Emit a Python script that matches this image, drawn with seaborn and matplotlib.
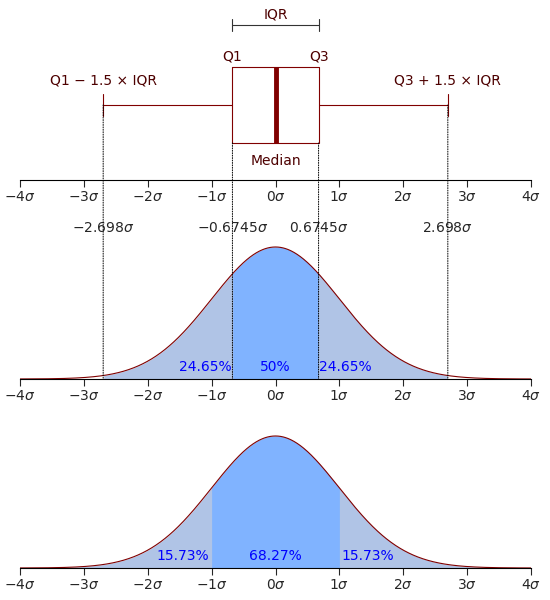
import numpy as np
import seaborn as sns
import matplotlib.pyplot as plt
from matplotlib.patches import ConnectionPatch

sns.set_style('white')
plt.rcParams['font.family'] = ['DejaVu Sans']

q1, q3 = -0.6745, 0.6745
wlo, whi = -2.698, 2.698
median = 0.0
ticks = [-4, -3, -2, -1, 0, 1, 2, 3, 4]
tick_labels = [r'$-4\sigma$', r'$-3\sigma$', r'$-2\sigma$', r'$-1\sigma$', r'$0\sigma$',
               r'$1\sigma$', r'$2\sigma$', r'$3\sigma$', r'$4\sigma$']
mid_pct = ['24.65%', '50%', '24.65%']
bot_pct = ['15.73%', '68.27%', '15.73%']

# standard normal density (the subject of the chart)
xs = np.linspace(-4, 4, 801)
pdf = np.exp(-xs**2 / 2) / np.sqrt(2 * np.pi)

RED = '#800000'
TXT = '#4d0000'
LIGHT = '#b0c4e6'
DARK = '#80b3ff'

fig = plt.figure(figsize=(5.5, 6), dpi=100)
L, W = 20/550, 511/550
ax_top = fig.add_axes([L, 1 - 180/600, W, 180/600])
ax_mid = fig.add_axes([L, 1 - 379/600, W, 139/600])
ax_bot = fig.add_axes([L, 1 - 568/600, W, 138/600])

def style(ax):
    ax.set_xlim(-4, 4)
    for s in ['top', 'left', 'right']:
        ax.spines[s].set_visible(False)
    ax.spines['bottom'].set_color('black')
    ax.set_xticks(ticks)
    ax.set_xticklabels(tick_labels, fontsize=10)
    ax.tick_params(axis='x', direction='out', length=5, width=0.8, bottom=True, pad=2)
    ax.set_yticks([])
    ax.set_facecolor('none')

# top: box plot
style(ax_top)
ax_top.set_ylim(180, 0)
stats = [dict(med=median, q1=q1, q3=q3, whislo=wlo, whishi=whi, fliers=[])]
ax_top.bxp(stats, positions=[105], widths=76, vert=False, capwidths=22,
           boxprops=dict(color=RED, lw=0.8), whiskerprops=dict(color=RED, lw=0.8),
           capprops=dict(color=RED, lw=0.8), medianprops=dict(color=RED, lw=3.5),
           manage_ticks=False)
ax_top.set_yticks([])
ax_top.plot([q1, q3], [25, 25], color='#333333', lw=0.8)
ax_top.plot([q1, q1], [19, 31], color='#333333', lw=0.8)
ax_top.plot([q3, q3], [19, 31], color='#333333', lw=0.8)
ax_top.text(0, 15, 'IQR', ha='center', va='center', fontsize=10, color=TXT)
ax_top.text(q1, 57, 'Q1', ha='center', va='center', fontsize=10, color=TXT)
ax_top.text(q3, 57, 'Q3', ha='center', va='center', fontsize=10, color=TXT)
ax_top.text(0, 161, 'Median', ha='center', va='center', fontsize=10, color=TXT)
ax_top.text(wlo, 80, 'Q1 − 1.5 × IQR', ha='center', va='center', fontsize=10, color=TXT)
ax_top.text(whi, 80, 'Q3 + 1.5 × IQR', ha='center', va='center', fontsize=10, color=TXT)
for v, lab in [(wlo, r'$-2.698\sigma$'), (q1, r'$-0.6745\sigma$'),
               (q3, r'$0.6745\sigma$'), (whi, r'$2.698\sigma$')]:
    ax_top.text(v, 228, lab, ha='center', va='center', fontsize=10)

# middle / bottom: normal curves
def curve(ax, inner, labels, label_x):
    style(ax)
    ax.set_ylim(0, 0.3989 * (ax.get_position().height * 600) / 132)
    outer = (xs >= -inner[1]) & (xs <= inner[1])
    ax.fill_between(xs, 0, pdf, where=outer, color=LIGHT, lw=0)
    cen = (xs >= -inner[0]) & (xs <= inner[0])
    ax.fill_between(xs, 0, pdf, where=cen, color=DARK, lw=0)
    sns.lineplot(x=xs, y=pdf, ax=ax, color=RED, lw=0.8)
    for x, t in zip(label_x, labels):
        ax.text(x, 0.035, t, ha='center', va='center', fontsize=10, color='blue')

curve(ax_mid, (q3, whi), mid_pct, [-1.1, 0, 1.1])
curve(ax_bot, (1.0, 4.0), bot_pct, [-1.45, 0, 1.45])

# dotted links
for v, y0 in [(wlo, 105), (q1, 143), (q3, 143), (whi, 105)]:
    con = ConnectionPatch(xyA=(v, y0), coordsA=ax_top.transData,
                          xyB=(v, 0), coordsB=ax_mid.transData,
                          color='black', lw=0.7, ls=(0, (1, 1.5)))
    fig.add_artist(con)

fig.savefig('out.png', dpi=100)
